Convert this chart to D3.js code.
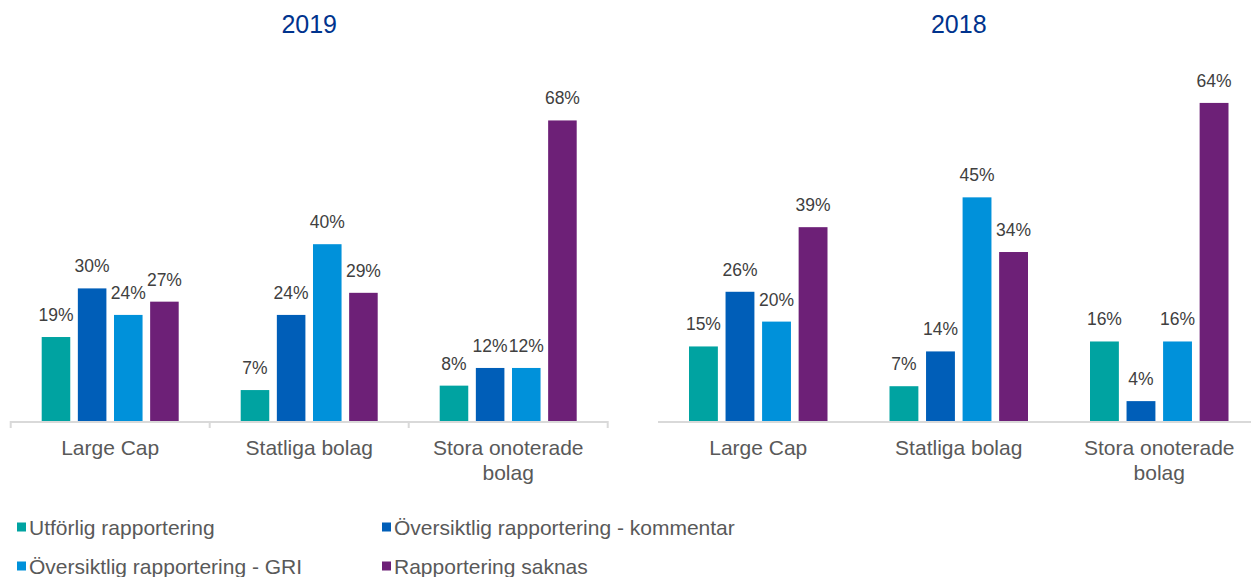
<!DOCTYPE html>
<html>
<head>
<meta charset="utf-8">
<script src="https://cdn.jsdelivr.net/npm/d3@7"></script>
<style>
  body { margin: 0; background: #fff; }
  text { font-family: Arial, "Liberation Sans", sans-serif; }
</style>
</head>
<body>
<div class="chart"></div>
<script>
// data
var categories = ["Large Cap", "Statliga bolag", "Stora onoterade bolag"];
var seriesNames = ["Utförlig rapportering", "Översiktlig rapportering - kommentar",
                   "Översiktlig rapportering - GRI", "Rapportering saknas"];
var colors = ["#00A3A1", "#005EB8", "#0091DA", "#6D2077"];

var values2019 = [
  [19, 30, 24, 27],
  [7, 24, 40, 29],
  [8, 12, 12, 68]
];
var values2018 = [
  [15, 26, 20, 39],
  [7, 14, 45, 34],
  [16, 4, 16, 64]
];

var width = 1251, height = 577;
var baseY = 421;

var svg = d3.select(".chart").append("svg")
  .attr("width", width)
  .attr("height", height);

// one panel per year
function drawPanel(title, values, left, right, pxPerPct, ticks) {
  var g = svg.append("g");

  var x0 = d3.scaleBand().domain(categories).range([left, right]);
  var x1 = d3.scaleBand().domain(seriesNames)
    .range([31, x0.bandwidth() - 31])
    .paddingInner(0.21);
  var maxV = d3.max(values, function(r) { return d3.max(r); });
  var y = d3.scaleLinear().domain([0, maxV]).range([baseY, baseY - maxV * pxPerPct]);

  g.append("text")
    .attr("x", (left + right) / 2)
    .attr("y", 33)
    .attr("text-anchor", "middle")
    .style("font-size", "25px")
    .style("fill", "#00338D")
    .text(title);

  var groups = g.selectAll(".grp")
    .data(categories)
    .enter().append("g")
    .attr("transform", function(d) { return "translate(" + x0(d) + ",0)"; });

  groups.each(function(cat, ci) {
    var row = values[ci].map(function(v, i) { return { s: seriesNames[i], v: v, c: colors[i] }; });
    var sel = d3.select(this);
    sel.selectAll("rect")
      .data(row)
      .enter().append("rect")
      .attr("x", function(d) { return x1(d.s); })
      .attr("y", function(d) { return y(d.v); })
      .attr("width", x1.bandwidth())
      .attr("height", function(d) { return baseY - y(d.v); })
      .style("fill", function(d) { return d.c; });
    sel.selectAll(".lbl")
      .data(row)
      .enter().append("text")
      .attr("class", "lbl")
      .attr("x", function(d) { return x1(d.s) + x1.bandwidth() / 2; })
      .attr("y", function(d) { return y(d.v) - 16; })
      .attr("text-anchor", "middle")
      .style("font-size", "17.5px")
      .style("fill", "#404040")
      .text(function(d) { return d.v + "%"; });
  });

  // axis line
  g.append("line")
    .attr("x1", left).attr("x2", right)
    .attr("y1", baseY + 1).attr("y2", baseY + 1)
    .style("stroke", "#d9d9d9")
    .style("stroke-width", 2);

  if (ticks) {
    var tickXs = categories.map(function(c) { return x0(c); }).concat([right]);
    g.selectAll(".tick")
      .data(tickXs)
      .enter().append("line")
      .attr("x1", function(d) { return d; }).attr("x2", function(d) { return d; })
      .attr("y1", baseY).attr("y2", baseY + 7)
      .style("stroke", "#d9d9d9")
      .style("stroke-width", 2);
  }

  // category labels (wrap long one)
  groups.append("text")
    .attr("x", x0.bandwidth() / 2)
    .attr("y", 455)
    .attr("text-anchor", "middle")
    .style("font-size", "21px")
    .style("fill", "#595959")
    .each(function(d) {
      var t = d3.select(this);
      var lines = d === "Stora onoterade bolag" ? ["Stora onoterade", "bolag"] : [d];
      lines.forEach(function(l, i) {
        t.append("tspan")
          .attr("x", x0.bandwidth() / 2)
          .attr("dy", i === 0 ? 0 : 25)
          .text(l);
      });
    });
}

drawPanel("2019", values2019, 10.7, 607.7, 4.42, true);
drawPanel("2018", values2018, 658, 1259.5, 4.97, false);

// legend
var legendPos = [[17, 527], [382, 527], [17, 566], [382, 566]];
var legend = svg.selectAll(".legend")
  .data(seriesNames)
  .enter().append("g")
  .attr("transform", function(d, i) { return "translate(" + legendPos[i][0] + "," + legendPos[i][1] + ")"; });

legend.append("rect")
  .attr("x", 0).attr("y", -4.5)
  .attr("width", 9).attr("height", 9)
  .style("fill", function(d, i) { return colors[i]; });

legend.append("text")
  .attr("x", 12)
  .attr("y", 7.5)
  .style("font-size", "21px")
  .style("fill", "#595959")
  .text(function(d) { return d; });
</script>
</body>
</html>
